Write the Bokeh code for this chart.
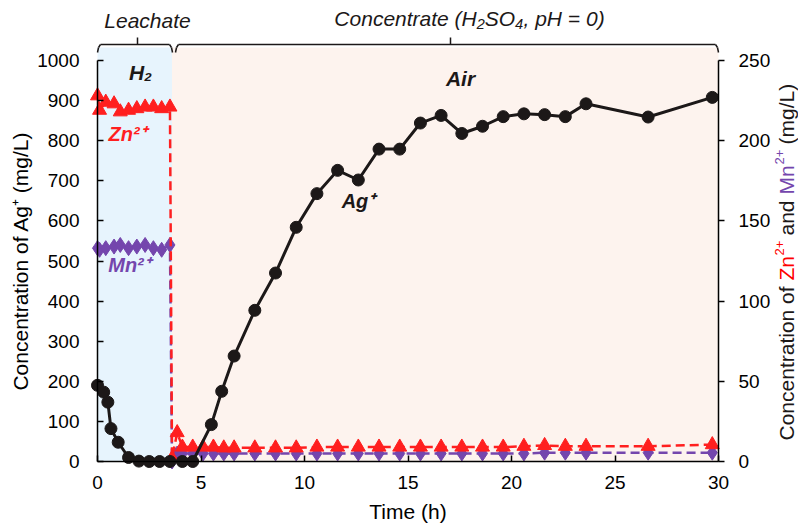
import math
from bokeh.plotting import figure
from bokeh.models import Range1d, LinearAxis, FixedTicker, BoxAnnotation, Label, Arrow
from bokeh.embed import file_html
from bokeh.resources import INLINE

# ---------------- data ----------------
# Ag+ (left axis, mg/L)
ag_time = [0, 0.3, 0.5, 0.65, 1.0, 1.5, 2.0, 2.5, 3.0, 3.5, 4.1, 4.6,
           5.5, 6.0, 6.6, 7.6, 8.6, 9.6, 10.6, 11.6, 12.6, 13.6, 14.6, 15.6,
           16.6, 17.6, 18.6, 19.6, 20.6, 21.6, 22.6, 23.6, 26.6, 29.7]
ag_conc = [190, 173, 148, 82, 48, 10, 1, 0, 0, 0, 0, 0,
           92, 175, 263, 377, 470, 584, 668, 726, 702, 779, 779, 844,
           863, 818, 836, 860, 867, 865, 860, 892, 859, 908]

# Zn2+ and Mn2+ (right axis, mg/L) - leachate stage then concentrate stage
ion_time_leach = [0, 0.1, 0.4, 0.8, 1.1, 1.5, 1.9, 2.3, 2.7, 3.1, 3.5]
ion_time_conc = [3.6, 3.85, 4.1, 4.6, 5.1, 5.6, 6.1, 6.6, 7.6, 8.6, 9.6, 10.6,
                 11.6, 12.6, 13.6, 14.6, 15.6, 16.6, 17.6, 18.6, 19.6, 20.6,
                 21.6, 22.6, 23.6, 26.6, 29.7]
zn_leach = [228, 219, 224, 223, 218, 219, 220, 221, 221, 220, 221]
zn_conc = [2, 18, 9, 9, 9, 9, 8.5, 8.5, 8.5, 8.5, 8.5, 9,
           9, 9, 9, 9, 9, 9, 9, 9, 9, 9.5,
           10, 9.5, 9.5, 9.5, 10.5]
mn_leach = [133, 132, 133, 134, 135, 133, 134, 135, 133, 132, 135]
mn_conc = [0, 5, 5, 5, 5, 5, 5, 5, 5, 5, 5, 5,
           5, 5, 5, 5, 5, 5, 5, 5, 5, 5,
           5.5, 5.5, 5.5, 5.5, 5.5]

x_ticks = [0, 5, 10, 15, 20, 25, 30]
y_left_ticks = [0, 100, 200, 300, 400, 500, 600, 700, 800, 900, 1000]
y_right_ticks = [0, 50, 100, 150, 200, 250]

x_bounds = (0, 30)
y_left_bounds = (0, 1000)
y_right_bounds = (0, 250)
switch_time = 3.6  # leachate -> concentrate

ion_time = ion_time_leach + ion_time_conc
zn_all = zn_leach + zn_conc
mn_all = mn_leach + mn_conc

# ---------------- style ----------------
FONT = "Liberation Sans"
RED = "#ff1f1f"
PURPLE = "#7446ad"
BLACK = "#1c1818"
BLUE_BG = "#e7f4fd"
PEACH_BG = "#fdf3ee"

W, H = 798, 531
# data box in page px: left 97, right 718, top 60, bottom 461
def X(px):
    return (px - 97) * 30.0 / 621.0

def Y(py):
    return (461 - py) * 1000.0 / 401.0

p = figure(width=W, height=H, output_backend="svg", toolbar_location=None,
           x_range=Range1d(X(0), X(W)), y_range=Range1d(Y(H), Y(0)),
           x_axis_location=None, y_axis_location=None,
           min_border_left=0, min_border_right=0, min_border_top=0,
           min_border_bottom=0)
p.extra_y_ranges = {"right": Range1d(Y(H) / 4.0, Y(0) / 4.0)}
p.outline_line_color = None
p.grid.visible = False
p.background_fill_color = "white"
p.border_fill_color = "white"

def style_axis(ax, tick_in, tick_out, standoff):
    ax.axis_line_color = "black"
    ax.axis_line_width = 1.5
    ax.major_tick_line_color = "black"
    ax.major_tick_line_width = 1.5
    ax.major_tick_in = tick_in
    ax.major_tick_out = tick_out
    ax.minor_tick_line_color = None
    ax.major_label_text_font = FONT
    ax.major_label_text_font_size = "19px"
    ax.major_label_text_color = "black"
    ax.major_label_standoff = standoff
    ax.axis_label_text_font = FONT
    ax.axis_label_text_font_size = "21px"
    ax.axis_label_text_font_style = "normal"
    ax.axis_label_text_color = "black"

xa = LinearAxis(fixed_location=0, bounds=x_bounds,
                ticker=FixedTicker(ticks=x_ticks), axis_label="Time (h)")
style_axis(xa, 6, 0, 14)
xa.axis_label_standoff = 8
p.add_layout(xa, "below")

ya = LinearAxis(fixed_location=0, bounds=y_left_bounds,
                ticker=FixedTicker(ticks=y_left_ticks),
                axis_label="Concentration of Ag⁺ (mg/L)")
style_axis(ya, 6, 0, 18)
ya.axis_label_standoff = 2
p.add_layout(ya, "left")

yr = LinearAxis(fixed_location=30, bounds=y_right_bounds, y_range_name="right",
                ticker=FixedTicker(ticks=y_right_ticks))
style_axis(yr, 0, 6, 14)
p.add_layout(yr, "right")

# shaded stages
p.add_layout(BoxAnnotation(left=0, right=switch_time, bottom=0, top=Y(47),
                           fill_color=BLUE_BG, fill_alpha=1, line_color=None,
                           level="underlay"))
p.add_layout(BoxAnnotation(left=switch_time, right=30, bottom=0, top=Y(47),
                           fill_color=PEACH_BG, fill_alpha=1, line_color=None,
                           level="underlay"))

# series
p.line(ion_time, mn_all, y_range_name="right", line_color=PURPLE,
       line_width=2.5, line_dash="9 5")
p.scatter(ion_time, mn_all, y_range_name="right", marker="diamond", size=15,
          fill_color=PURPLE, line_color=PURPLE)
p.line(ion_time, zn_all, y_range_name="right", line_color=RED,
       line_width=2.5, line_dash="9 5")
p.scatter(ion_time, zn_all, y_range_name="right", marker="triangle", size=14,
          fill_color=RED, line_color=RED)
p.line(ag_time, ag_conc, line_color=BLACK, line_width=3)
p.scatter(ag_time, ag_conc, marker="circle", size=12, fill_color=BLACK,
          line_color=BLACK)

def lab(text, px, py, size, color=BLACK, style="normal", angle=0,
        align="center", baseline="middle"):
    p.add_layout(Label(x=X(px), y=Y(py), text=text, text_font=FONT,
                       text_font_size=f"{size}px", text_color=color,
                       text_font_style=style, angle=angle, text_align=align,
                       text_baseline=baseline))

# in-plot annotations
lab("H₂", 140, 72, 21, style="bold italic")
lab("Air", 460, 78, 21, style="bold italic")
lab("Zn²⁺", 127, 133, 20, color=RED, style="bold italic")
lab("Mn²⁺", 129, 264, 20, color=PURPLE, style="bold italic")
lab("Ag⁺", 358, 200, 20, style="bold italic")

# stage brackets and captions
lab("Leachate", 147, 20, 21, style="italic")
lab("Concentrate (H₂SO₄, pH = 0)", 469, 18, 21, style="italic")

def seg(px0, py0, px1, py1):
    p.add_layout(Arrow(end=None, x_start=X(px0), y_start=Y(py0),
                       x_end=X(px1), y_end=Y(py1), line_color=BLACK,
                       line_width=1.5))

seg(100, 44, 169, 44); seg(97, 52, 98, 47); seg(98, 47, 100, 44)
seg(172, 52, 171, 47); seg(171, 47, 169, 44); seg(137, 44, 137, 37)
seg(178, 44, 715, 44); seg(175, 52, 176, 47); seg(176, 47, 178, 44)
seg(718, 52, 717, 47); seg(717, 47, 715, 44); seg(450, 44, 450, 37)

# multi-coloured right axis title
rx, sx = 786, 779
lab("Concentration of", rx, 440, 21, angle=math.pi / 2, align="left")
lab("Zn", rx, 280, 21, color="#ff0000", angle=math.pi / 2, align="left")
lab("2+", sx, 255, 13, color="#ff0000", angle=math.pi / 2, align="left")
lab("and", rx, 235, 21, angle=math.pi / 2, align="left")
lab("Mn", rx, 194, 21, color=PURPLE, angle=math.pi / 2, align="left")
lab("2+", sx, 164, 13, color=PURPLE, angle=math.pi / 2, align="left")
lab("(mg/L)", rx, 144, 21, angle=math.pi / 2, align="left")

open("out.html", "w").write(file_html(p, INLINE))
